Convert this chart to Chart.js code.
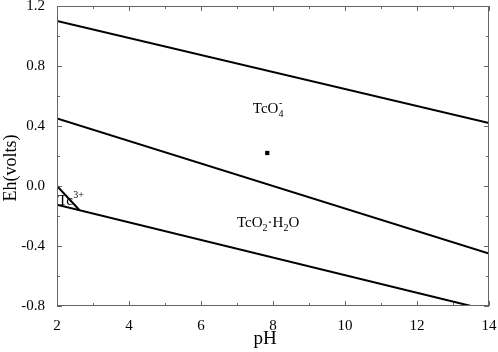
<!DOCTYPE html>
<html>
<head>
<meta charset="utf-8">
<script src="https://cdn.jsdelivr.net/npm/chart.js@4/dist/chart.umd.min.js"></script>
<style>
  html, body { margin: 0; padding: 0; background: #fff; }
  #wrap { width: 498px; height: 352px; }
</style>
</head>
<body>
<div id="wrap"><canvas id="grafico"></canvas></div>
<script>
const pHLimits = [2, 14];
const upperLineEh = [1.10, 0.42];        // limite superior
const tcO4LineEh = [0.45, -0.45];        // TcO4- / TcO2.H2O
const lowerLinePH = [2, 13.5];
const lowerLineEh = [-0.125, -0.80];     // limite inferior
const tc3LinePH = [2, 2.62];
const tc3LineEh = [0.0, -0.16];          // borde Tc3+
const samplePoint = [7.84, 0.22];        // punto medido
const yTicks = [-0.8, -0.4, 0.0, 0.4, 0.8, 1.2];
const xTicks = [2, 4, 6, 8, 10, 12, 14];
const xTitle = 'pH';
const yTitle = 'Eh(volts)';
const regionLabels = [
  { pH: 7.44, Eh: 0.487, parts: [['TcO'], ['4', '-']] },
  { pH: 7.0, Eh: -0.273, parts: [['TcO'], ['2', ''], ['\u00B7H'], ['2', ''], ['O']] },
  { pH: 2.03, Eh: -0.127, parts: [['Tc'], ['', '3+']] }
];

const FONT = '"Liberation Serif", "Times New Roman", serif';

function pts(xs, ys) { return xs.map((x, i) => ({ x: x, y: ys[i] })); }

function lineSet(data) {
  return { data: data, showLine: true, borderColor: '#000', borderWidth: 2, pointRadius: 0, fill: false };
}

// marco, ticks hacia dentro, titulos y etiquetas de regiones
const frameAndLabels = {
  id: 'frameAndLabels',
  afterDraw(chart) {
    const ctx = chart.ctx, a = chart.chartArea;
    const sx = chart.scales.x, sy = chart.scales.y;
    ctx.save();
    ctx.strokeStyle = '#666';
    ctx.lineWidth = 1;
    ctx.strokeRect(a.left + 0.5, a.top + 0.5, a.right - a.left - 1, a.bottom - a.top - 1);
    ctx.beginPath();
    for (let v = 2; v <= 14; v += 1) {
      const px = Math.round(sx.getPixelForValue(v)) + 0.5;
      const len = v % 2 === 0 ? 5 : 3;
      ctx.moveTo(px, a.bottom); ctx.lineTo(px, a.bottom - len);
      ctx.moveTo(px, a.top); ctx.lineTo(px, a.top + len);
    }
    for (let k = -4; k <= 6; k++) {
      const v = k * 0.2;
      const py = Math.round(sy.getPixelForValue(v)) + 0.5;
      const len = k % 2 === 0 ? 5 : 3;
      ctx.moveTo(a.left, py); ctx.lineTo(a.left + len, py);
      ctx.moveTo(a.right, py); ctx.lineTo(a.right - len, py);
    }
    ctx.stroke();

    ctx.fillStyle = '#000';
    // titulos de ejes
    ctx.textAlign = 'center';
    ctx.textBaseline = 'alphabetic';
    ctx.font = '19px ' + FONT;
    ctx.fillText(xTitle, 265, 344);
    ctx.save();
    ctx.translate(16, 168);
    ctx.rotate(-Math.PI / 2);
    ctx.font = '18px ' + FONT;
    ctx.fillText(yTitle, 0, 0);
    ctx.restore();

    ctx.textAlign = 'left';
    regionLabels.forEach(lb => {
      let x = sx.getPixelForValue(lb.pH);
      const y = sy.getPixelForValue(lb.Eh);
      lb.parts.forEach(p => {
        if (p.length === 1) {
          ctx.font = '15px ' + FONT;
          ctx.fillText(p[0], x, y);
          x += ctx.measureText(p[0]).width;
        } else {
          ctx.font = '10px ' + FONT;
          const w1 = ctx.measureText(p[0]).width, w2 = ctx.measureText(p[1]).width;
          if (p[0]) ctx.fillText(p[0], x, y + 4);
          if (p[1]) ctx.fillText(p[1], x + 0.5, y - 7);
          x += Math.max(w1, w2);
        }
      });
    });
    ctx.restore();
  }
};

const ctx = document.getElementById('grafico').getContext('2d');
const chart = new Chart(ctx, {
  type: 'scatter',
  data: {
    datasets: [
      lineSet(pts(pHLimits, upperLineEh)),
      lineSet(pts(pHLimits, tcO4LineEh)),
      lineSet(pts(lowerLinePH, lowerLineEh)),
      lineSet(pts(tc3LinePH, tc3LineEh)),
      {
        data: [{ x: samplePoint[0], y: samplePoint[1] }],
        pointStyle: 'rect', pointRadius: 3, backgroundColor: '#000', borderColor: '#000', borderWidth: 0
      }
    ]
  },
  options: {
    responsive: true,
    maintainAspectRatio: false,
    animation: false,
    layout: { padding: { top: 6, right: 9, left: 0, bottom: 0 } },
    plugins: { legend: { display: false }, tooltip: { enabled: false } },
    scales: {
      x: {
        type: 'linear', min: 2, max: 14,
        grid: { display: false }, border: { display: false },
        afterBuildTicks: s => { s.ticks = xTicks.map(v => ({ value: v })); },
        afterFit: s => { s.height = 46; s.paddingLeft = 0; s.paddingRight = 0; },
        ticks: { color: '#000', padding: 3, maxRotation: 0, font: { family: FONT, size: 15 } }
      },
      y: {
        type: 'linear', min: -0.8, max: 1.2,
        grid: { display: false }, border: { display: false },
        afterBuildTicks: s => { s.ticks = yTicks.map(v => ({ value: v })); },
        afterFit: s => { s.width = 57; s.paddingTop = 0; s.paddingBottom = 0; },
        ticks: { color: '#000', padding: 4, font: { family: FONT, size: 15 }, callback: v => v.toFixed(1) }
      }
    }
  },
  plugins: [frameAndLabels]
});
</script>
</body>
</html>
